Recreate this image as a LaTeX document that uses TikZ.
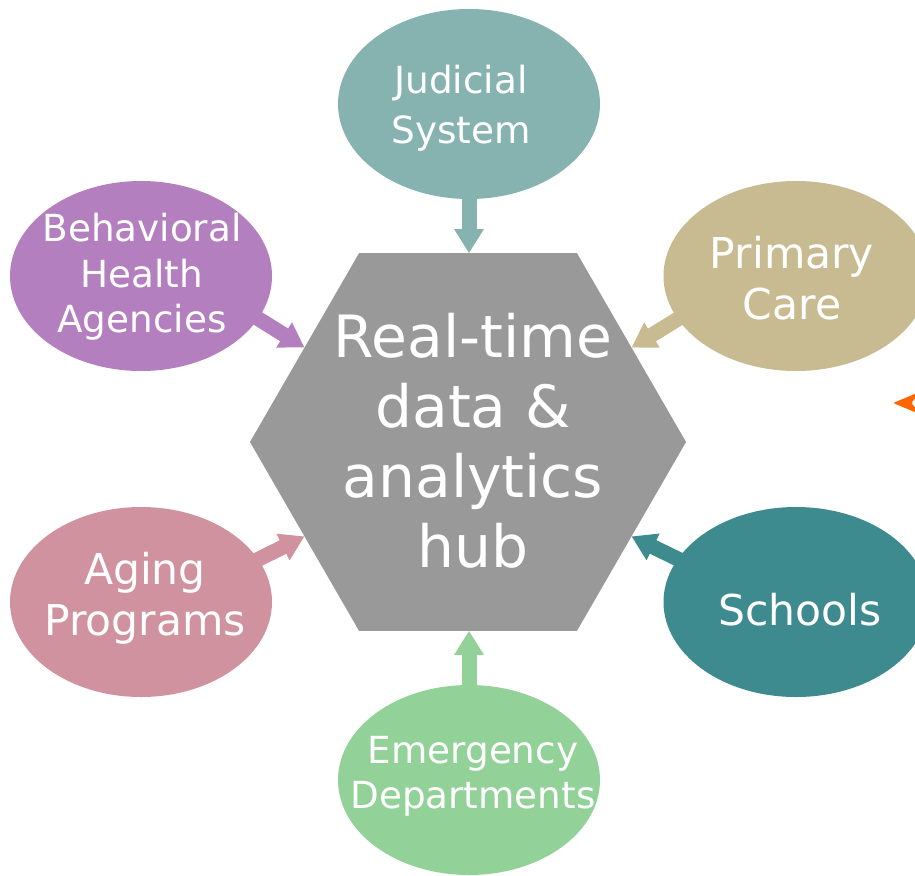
\documentclass[tikz,border=0pt]{standalone}
\usepackage{fontspec}
\setmainfont{DejaVu Sans}
\usetikzlibrary{shapes.geometric,arrows.meta}
\definecolor{judc}{RGB}{134,179,176}
\definecolor{behc}{RGB}{179,127,190}
\definecolor{pcc}{RGB}{200,187,146}
\definecolor{agc}{RGB}{208,146,158}
\definecolor{scc}{RGB}{62,139,143}
\definecolor{emc}{RGB}{146,210,153}
\definecolor{hubc}{RGB}{153,153,153}
\definecolor{orc}{RGB}{255,102,0}
\begin{document}
\begin{tikzpicture}[x=1pt,y=-1pt,
  blob/.style={ellipse, fill=#1, draw=none, minimum width=262pt, minimum height=190pt, inner sep=0pt, outer sep=0pt},
  lbl/.style={text=white, align=center, inner sep=0pt},
  conn/.style={draw=#1, line width=15pt, shorten <=-8pt, -{Triangle[length=24pt,width=28pt]}}]
\useasboundingbox (0,0) rectangle (915,875);
\clip (0,0) rectangle (915,875);
% hub
\node[regular polygon, regular polygon sides=6, minimum size=436pt, inner sep=0pt, outer sep=0pt, fill=hubc, draw=none] (hub) at (468,442) {};
% ellipses
\node[blob=judc] (jud) at (469,104) {};
\node[blob=behc] (beh) at (141,276) {};
\node[blob=pcc, minimum width=265pt] (pc) at (796,276) {};
\node[blob=agc] (ag) at (141,602) {};
\node[blob=scc, minimum width=265pt] (sc) at (796,602) {};
\node[blob=emc] (em) at (469,780) {};
% connectors
\draw[conn=judc] (jud.270) -- (jud.270 |- hub.north);
\draw[conn=behc] (beh.-20) -- (hub.150);
\draw[conn=pcc] (pc.200) -- (hub.30);
\draw[conn=agc] (ag.20) -- (hub.210);
\draw[conn=scc] (sc.160) -- (hub.-30);
\draw[conn=emc] (em.90) -- (em.90 |- hub.south);
% labels
\node[lbl, font=\fontsize{58.3}{70}\selectfont] (hubT) at (473,441) {Real-time\\data \&\\analytics\\hub};
\node[lbl, font=\fontsize{37.4}{50}\selectfont] (judT) at (461,108) {Judicial\\System};
\node[lbl, font=\fontsize{37.3}{45.3}\selectfont] (behT) at (142,277) {Behavioral\\Health\\Agencies};
\node[lbl, font=\fontsize{42.5}{51}\selectfont] (pcT) at (792,278) {Primary\\Care};
\node[lbl, font=\fontsize{42.5}{51}\selectfont] (agT) at (145,598) {Aging\\Programs};
\node[lbl, font=\fontsize{42.5}{51}\selectfont] (scT) at (800,610) {Schools};
\node[lbl, font=\fontsize{37.3}{45}\selectfont] (emT) at (473,776) {Emergency\\Departments};
% orange arrowhead at right edge
\coordinate (ortip) at (893,403);
\fill[orc, rounded corners=2pt] (ortip) -- (922,391) -- (911,403) -- (922,415) -- cycle;
\end{tikzpicture}
\end{document}
